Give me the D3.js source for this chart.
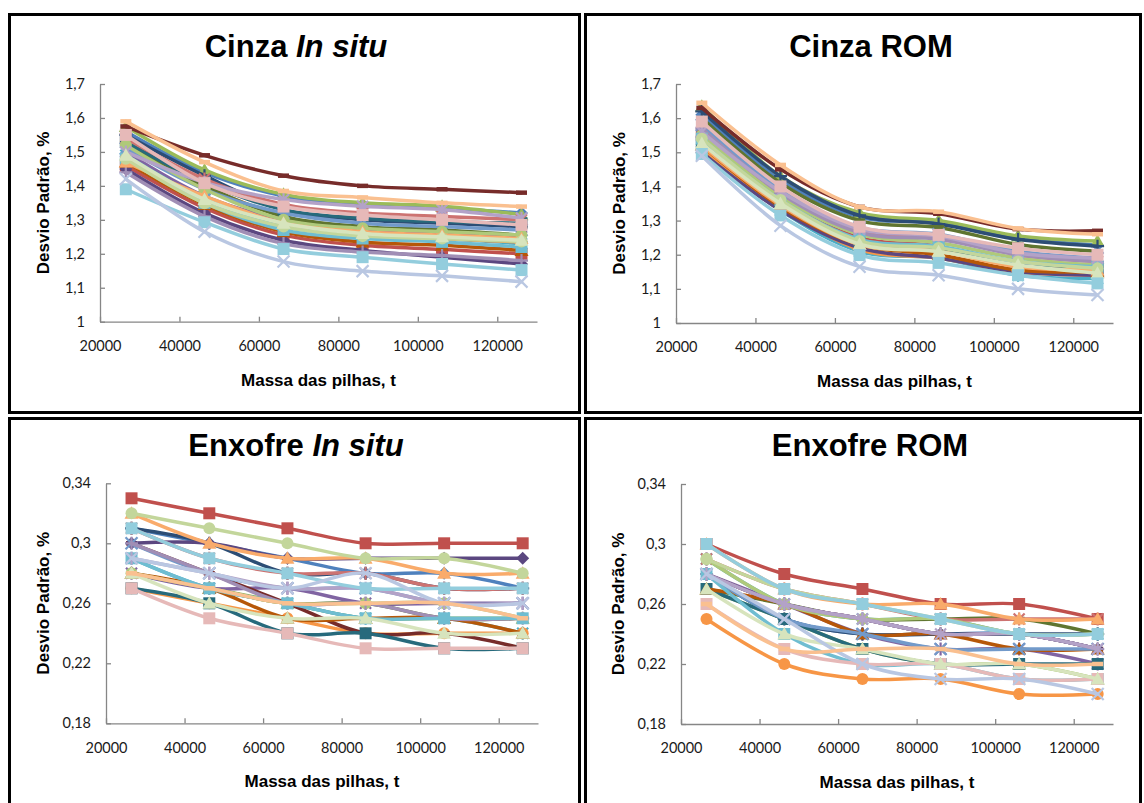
<!DOCTYPE html>
<html>
<head>
<meta charset="utf-8">
<script src="https://cdn.jsdelivr.net/npm/d3@7"></script>
<style>
  body { margin: 0; background: #fff; }
  svg { display: block; }
</style>
</head>
<body>
<svg id="chart" width="1144" height="803"></svg>
<script>
// Pile masses (t) at which each standard deviation was evaluated
const massPoints = [26500, 46300, 66200, 86100, 106100, 126100];
const massTicks = [20000, 40000, 60000, 80000, 100000, 120000];
const cinzaTicks = [1, 1.1, 1.2, 1.3, 1.4, 1.5, 1.6, 1.7];
const enxofreTicks = [0.18, 0.22, 0.26, 0.3, 0.34];

// Series look (Excel-like palette and markers), one entry per series
const seriesColors = ["#4F81BD","#C0504D","#9BBB59","#8064A2","#4BACC6","#F79646","#2C4D75","#772C2A",
  "#5F7530","#5B4780","#276A7C","#B65708","#729ACA","#CD7371","#AFC97A","#A08EB5","#6FBDD1","#F9AB6B",
  "#B3A2C7","#E6B9B8","#C3D69B","#D7E4BD","#93CDDD","#B9C7E2","#FAC090"];
const seriesMarkers = ["diamond","square","triangle","star","star","circle","plus","dash",
  "dash","diamond","square","triangle","x","star","circle","plus","square","triangle",
  "star","square","circle","triangle","square","x","dash"];

// Standard deviation of ash (%), in situ
const cinzaInSitu = [
  [1.56, 1.44, 1.37, 1.345, 1.335, 1.32],
  [1.46, 1.335, 1.255, 1.225, 1.213, 1.20],
  [1.575, 1.447, 1.375, 1.35, 1.34, 1.315],
  [1.50, 1.37, 1.30, 1.27, 1.26, 1.25],
  [1.49, 1.36, 1.28, 1.255, 1.245, 1.23],
  [1.53, 1.40, 1.31, 1.26, 1.245, 1.235],
  [1.55, 1.43, 1.33, 1.30, 1.29, 1.28],
  [1.575, 1.49, 1.43, 1.40, 1.39, 1.38],
  [1.52, 1.40, 1.31, 1.28, 1.27, 1.255],
  [1.45, 1.32, 1.24, 1.21, 1.19, 1.17],
  [1.53, 1.41, 1.33, 1.305, 1.295, 1.29],
  [1.47, 1.345, 1.265, 1.235, 1.225, 1.21],
  [1.51, 1.39, 1.32, 1.29, 1.28, 1.27],
  [1.54, 1.42, 1.345, 1.32, 1.31, 1.30],
  [1.52, 1.39, 1.30, 1.275, 1.265, 1.255],
  [1.44, 1.31, 1.23, 1.205, 1.195, 1.18],
  [1.48, 1.35, 1.27, 1.245, 1.235, 1.22],
  [1.47, 1.37, 1.29, 1.265, 1.255, 1.245],
  [1.50, 1.41, 1.36, 1.34, 1.33, 1.305],
  [1.55, 1.408, 1.339, 1.314, 1.30, 1.285],
  [1.48, 1.349, 1.28, 1.252, 1.245, 1.236],
  [1.49, 1.36, 1.29, 1.26, 1.25, 1.24],
  [1.39, 1.293, 1.214, 1.19, 1.17, 1.152],
  [1.42, 1.265, 1.177, 1.149, 1.135, 1.118],
  [1.59, 1.47, 1.385, 1.366, 1.35, 1.339]
];

// Standard deviation of ash (%), run of mine
const cinzaROM = [
  [1.61, 1.42, 1.31, 1.295, 1.25, 1.228],
  [1.55, 1.36, 1.25, 1.225, 1.165, 1.16],
  [1.635, 1.43, 1.323, 1.30, 1.255, 1.24],
  [1.53, 1.35, 1.24, 1.22, 1.17, 1.15],
  [1.51, 1.33, 1.21, 1.19, 1.14, 1.13],
  [1.51, 1.34, 1.215, 1.19, 1.15, 1.14],
  [1.62, 1.43, 1.315, 1.29, 1.245, 1.225],
  [1.63, 1.45, 1.34, 1.32, 1.275, 1.27],
  [1.60, 1.41, 1.30, 1.28, 1.23, 1.21],
  [1.50, 1.33, 1.22, 1.19, 1.15, 1.14],
  [1.53, 1.35, 1.24, 1.22, 1.17, 1.16],
  [1.52, 1.34, 1.23, 1.20, 1.155, 1.15],
  [1.58, 1.39, 1.28, 1.26, 1.21, 1.19],
  [1.56, 1.38, 1.27, 1.25, 1.20, 1.18],
  [1.55, 1.37, 1.26, 1.235, 1.19, 1.17],
  [1.57, 1.38, 1.265, 1.245, 1.20, 1.18],
  [1.54, 1.36, 1.245, 1.225, 1.18, 1.165],
  [1.52, 1.345, 1.23, 1.21, 1.165, 1.155],
  [1.56, 1.385, 1.275, 1.255, 1.205, 1.19],
  [1.59, 1.40, 1.282, 1.258, 1.219, 1.20],
  [1.54, 1.36, 1.24, 1.22, 1.18, 1.16],
  [1.526, 1.35, 1.231, 1.209, 1.17, 1.146],
  [1.495, 1.315, 1.199, 1.176, 1.14, 1.116],
  [1.49, 1.285, 1.165, 1.14, 1.10, 1.082],
  [1.645, 1.463, 1.34, 1.326, 1.277, 1.26]
];

// Standard deviation of sulphur (%), in situ
const enxofreInSitu = [
  [0.31, 0.30, 0.29, 0.28, 0.28, 0.27],
  [0.33, 0.32, 0.31, 0.30, 0.30, 0.30],
  [0.28, 0.27, 0.26, 0.25, 0.25, 0.25],
  [0.28, 0.27, 0.27, 0.26, 0.26, 0.26],
  [0.29, 0.27, 0.26, 0.25, 0.25, 0.24],
  [0.27, 0.26, 0.25, 0.24, 0.24, 0.24],
  [0.31, 0.30, 0.28, 0.28, 0.27, 0.27],
  [0.30, 0.28, 0.26, 0.24, 0.24, 0.23],
  [0.28, 0.27, 0.26, 0.26, 0.25, 0.25],
  [0.30, 0.30, 0.29, 0.29, 0.29, 0.29],
  [0.27, 0.26, 0.24, 0.24, 0.23, 0.23],
  [0.28, 0.27, 0.25, 0.25, 0.25, 0.24],
  [0.30, 0.28, 0.27, 0.27, 0.26, 0.26],
  [0.31, 0.29, 0.28, 0.28, 0.27, 0.27],
  [0.28, 0.27, 0.26, 0.26, 0.26, 0.25],
  [0.30, 0.28, 0.26, 0.26, 0.25, 0.25],
  [0.29, 0.27, 0.26, 0.25, 0.25, 0.25],
  [0.32, 0.30, 0.29, 0.29, 0.28, 0.28],
  [0.29, 0.28, 0.27, 0.27, 0.26, 0.26],
  [0.27, 0.25, 0.24, 0.23, 0.23, 0.23],
  [0.32, 0.31, 0.30, 0.29, 0.29, 0.28],
  [0.28, 0.26, 0.25, 0.25, 0.24, 0.24],
  [0.31, 0.29, 0.28, 0.27, 0.27, 0.27],
  [0.29, 0.28, 0.27, 0.28, 0.26, 0.26],
  [0.28, 0.27, 0.26, 0.26, 0.26, 0.25]
];

// Standard deviation of sulphur (%), run of mine
const enxofreROM = [
  [0.28, 0.25, 0.24, 0.24, 0.24, 0.23],
  [0.30, 0.28, 0.27, 0.26, 0.26, 0.25],
  [0.27, 0.25, 0.23, 0.22, 0.22, 0.21],
  [0.28, 0.26, 0.24, 0.23, 0.23, 0.22],
  [0.29, 0.26, 0.25, 0.25, 0.24, 0.24],
  [0.25, 0.22, 0.21, 0.21, 0.20, 0.20],
  [0.28, 0.25, 0.24, 0.24, 0.24, 0.24],
  [0.28, 0.26, 0.25, 0.24, 0.24, 0.23],
  [0.27, 0.26, 0.25, 0.25, 0.25, 0.24],
  [0.28, 0.26, 0.25, 0.24, 0.24, 0.23],
  [0.27, 0.25, 0.23, 0.22, 0.22, 0.22],
  [0.27, 0.26, 0.24, 0.24, 0.23, 0.23],
  [0.28, 0.25, 0.24, 0.23, 0.23, 0.23],
  [0.29, 0.27, 0.26, 0.25, 0.25, 0.25],
  [0.29, 0.26, 0.25, 0.25, 0.24, 0.24],
  [0.28, 0.26, 0.25, 0.24, 0.24, 0.23],
  [0.28, 0.24, 0.22, 0.22, 0.21, 0.21],
  [0.30, 0.27, 0.26, 0.26, 0.25, 0.25],
  [0.28, 0.26, 0.25, 0.24, 0.24, 0.23],
  [0.26, 0.23, 0.22, 0.22, 0.21, 0.21],
  [0.29, 0.27, 0.26, 0.25, 0.24, 0.24],
  [0.27, 0.24, 0.23, 0.22, 0.22, 0.21],
  [0.30, 0.27, 0.26, 0.25, 0.24, 0.24],
  [0.28, 0.25, 0.22, 0.21, 0.21, 0.20],
  [0.26, 0.23, 0.23, 0.23, 0.22, 0.22]
];

const panels = [
  { title: ["Cinza ", "In situ"], data: cinzaInSitu, yDomain: [1, 1.7], yTicks: cinzaTicks,
    box: { x: 8, y: 13, w: 573, h: 401 }, plot: { l: 100, r: 537, t: 84, b: 321.7 },
    titleX: 296, titleY: 57, yTitleX: 43 },
  { title: ["Cinza ROM"], data: cinzaROM, yDomain: [1, 1.7], yTicks: cinzaTicks,
    box: { x: 584, y: 13, w: 558, h: 401 }, plot: { l: 676, r: 1113, t: 84, b: 323 },
    titleX: 871, titleY: 57, yTitleX: 619 },
  { title: ["Enxofre ", "In situ"], data: enxofreInSitu, yDomain: [0.18, 0.34], yTicks: enxofreTicks,
    box: { x: 8, y: 417, w: 573, h: 400 }, plot: { l: 106, r: 538, t: 483.3, b: 723.3 },
    titleX: 296, titleY: 456, yTitleX: 43 },
  { title: ["Enxofre ROM"], data: enxofreROM, yDomain: [0.18, 0.34], yTicks: enxofreTicks,
    box: { x: 584, y: 417, w: 558, h: 400 }, plot: { l: 681, r: 1113, t: 484, b: 724 },
    titleX: 870, titleY: 456, yTitleX: 618 }
];

const markerPaths = {
  diamond: "M0,-6.5L6.5,0L0,6.5L-6.5,0Z",
  square: "M-6,-6H6V6H-6Z",
  triangle: "M0,-7L7,5.5L-7,5.5Z",
  x: "M-6,-6L6,6M6,-6L-6,6",
  star: "M-5.5,-5.5L5.5,5.5M5.5,-5.5L-5.5,5.5M0,-6.5V6.5",
  plus: "M-6.5,0H6.5M0,-6.5V6.5",
  dash: "M-5.5,0H5.5"
};
const strokedMarkers = new Set(["x", "star", "plus", "dash"]);

const comma = v => String(+v.toFixed(2)).replace(".", ",");
const svg = d3.select("#chart");
const axisColor = "#868686";

panels.forEach(p => {
  const g = svg.append("g");

  // panel frame
  g.append("rect")
    .attr("x", p.box.x + 1.5).attr("y", p.box.y + 1.5)
    .attr("width", p.box.w - 3).attr("height", p.box.h - 3)
    .attr("fill", "#fff").attr("stroke", "#000").attr("stroke-width", 3);

  const x = d3.scaleLinear().domain([20000, 130000]).range([p.plot.l, p.plot.r]);
  const y = d3.scaleLinear().domain(p.yDomain).range([p.plot.b, p.plot.t]);

  // axes
  const yAxis = g.append("g").attr("transform", `translate(${p.plot.l},0)`)
    .call(d3.axisLeft(y).tickValues(p.yTicks).tickFormat(comma)
      .tickSizeInner(-5).tickSizeOuter(0).tickPadding(15));
  const xAxis = g.append("g").attr("transform", `translate(0,${p.plot.b})`)
    .call(d3.axisBottom(x).tickValues(massTicks).tickFormat(d3.format("d"))
      .tickSizeInner(-5).tickSizeOuter(0).tickPadding(19));
  [yAxis, xAxis].forEach(a => {
    a.select(".domain").attr("stroke", axisColor).attr("stroke-width", 1.3);
    a.selectAll(".tick line").attr("stroke", axisColor).attr("stroke-width", 1.3);
    a.selectAll(".tick text").attr("fill", "#1a1a1a")
      .style("font-family", "Lato, 'Open Sans', sans-serif").style("font-size", "14.5px");
  });

  // series: smoothed line then markers
  const line = d3.line()
    .x((d, i) => x(massPoints[i]))
    .y(d => y(d))
    .curve(d3.curveCardinal.tension(0));

  p.data.forEach((vals, si) => {
    const color = seriesColors[si];
    const mk = seriesMarkers[si];
    const sg = g.append("g");
    sg.append("path").attr("d", line(vals))
      .attr("fill", "none").attr("stroke", color).attr("stroke-width", 3.5)
      .attr("stroke-linejoin", "round").attr("stroke-linecap", "round");
    vals.forEach((v, i) => {
      const tx = `translate(${x(massPoints[i])},${y(v)})`;
      if (mk === "circle") {
        sg.append("circle").attr("transform", tx).attr("r", 6).attr("fill", color);
      } else if (strokedMarkers.has(mk)) {
        sg.append("path").attr("transform", tx).attr("d", markerPaths[mk])
          .attr("fill", "none").attr("stroke", color)
          .attr("stroke-width", mk === "dash" ? 4.5 : 2.2);
      } else {
        sg.append("path").attr("transform", tx).attr("d", markerPaths[mk]).attr("fill", color);
      }
    });
  });

  // chart title
  const t = g.append("text")
    .attr("x", p.titleX).attr("y", p.titleY).attr("text-anchor", "middle")
    .style("font-family", "'Liberation Sans', Arial, sans-serif")
    .style("font-size", "31px").style("font-weight", "bold").attr("fill", "#000");
  t.append("tspan").text(p.title[0]);
  if (p.title[1]) t.append("tspan").style("font-style", "italic").text(p.title[1]);

  // axis titles
  g.append("text")
    .attr("x", (p.plot.l + p.plot.r) / 2).attr("y", p.plot.b + 64)
    .attr("text-anchor", "middle")
    .style("font-family", "'Liberation Sans', Arial, sans-serif")
    .style("font-size", "17px").style("font-weight", "bold").attr("fill", "#000")
    .text("Massa das pilhas, t");
  g.append("text")
    .attr("transform", `translate(${p.yTitleX + 6},${(p.plot.t + p.plot.b) / 2}) rotate(-90)`)
    .attr("text-anchor", "middle")
    .style("font-family", "'Liberation Sans', Arial, sans-serif")
    .style("font-size", "17px").style("font-weight", "bold").attr("fill", "#000")
    .text("Desvio Padrão, %");
});
</script>
</body>
</html>
